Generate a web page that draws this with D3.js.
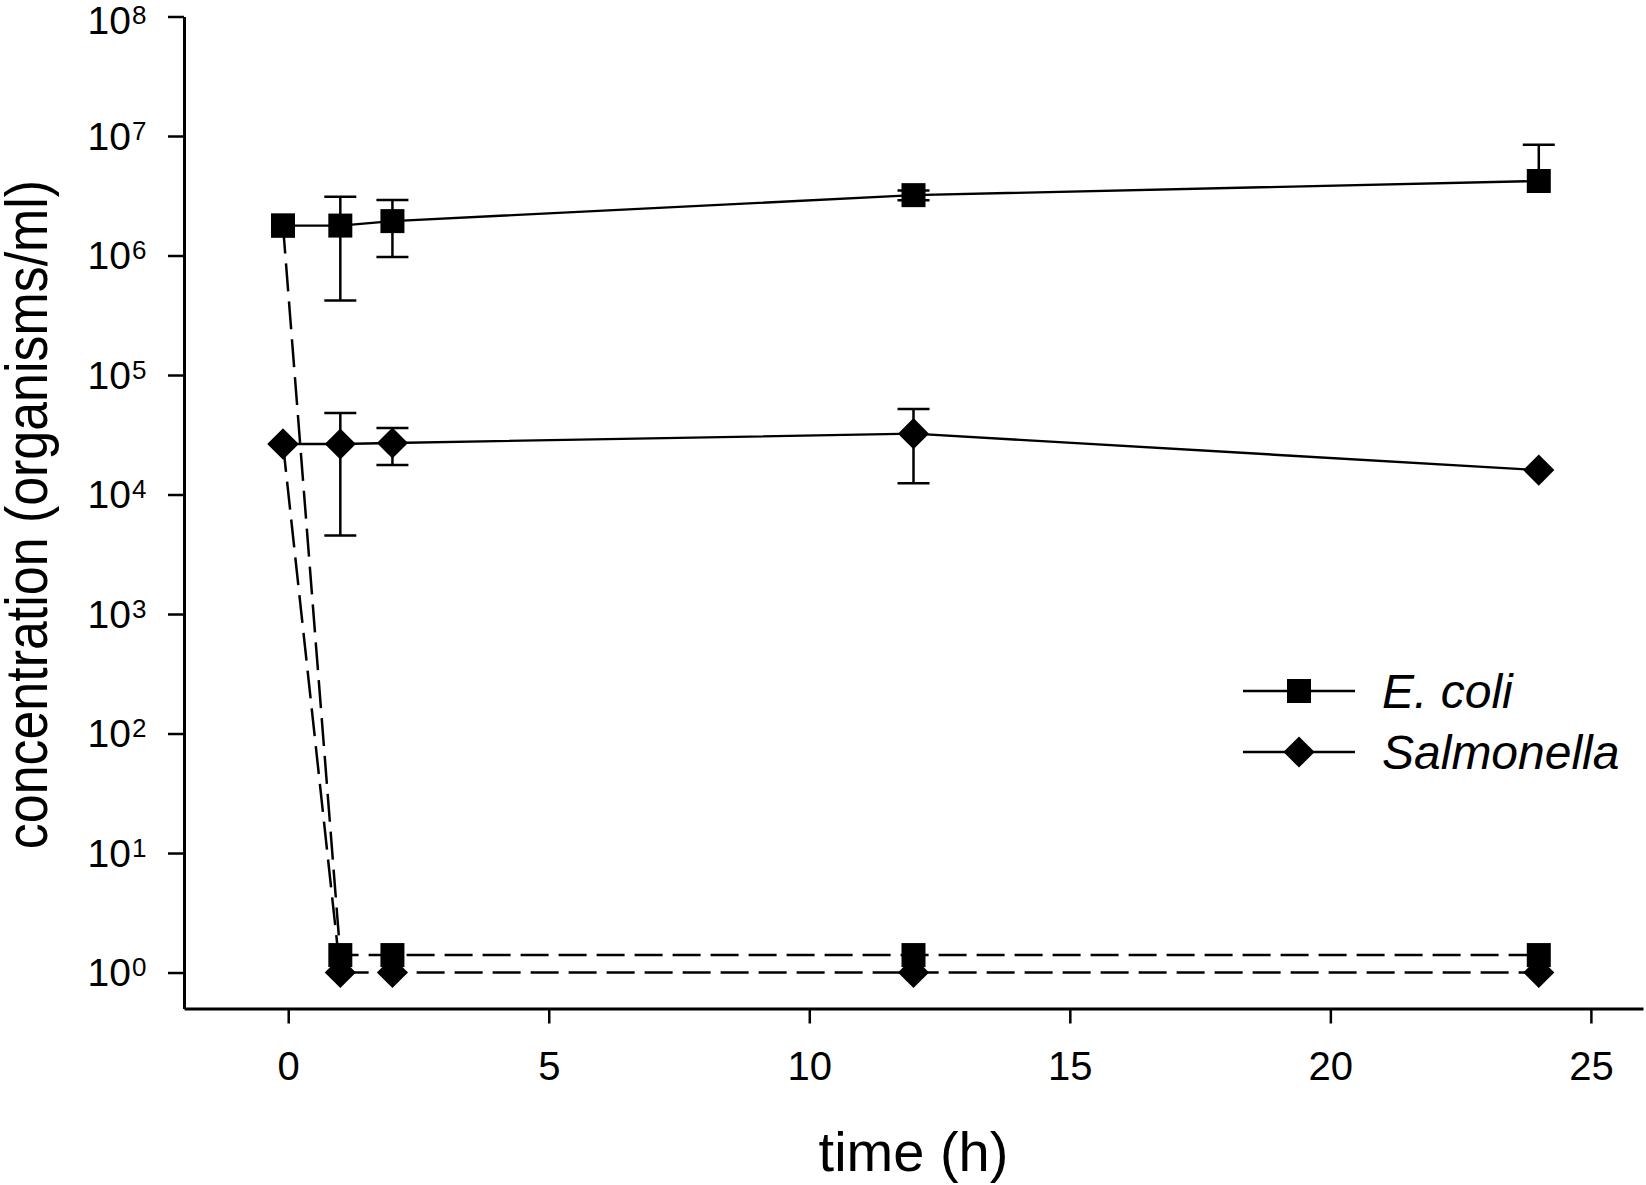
<!DOCTYPE html>
<html>
<head>
<meta charset="utf-8">
<script src="https://cdn.jsdelivr.net/npm/d3@7"></script>
<style>
  body { margin: 0; background: #fff; }
  text { font-family: "Liberation Sans", Arial, sans-serif; fill: #000; }
</style>
</head>
<body>
<div id="chart"></div>
<script>
// sampling times (h); first point plotted slightly left of zero
const timesH = [-0.1, 1, 2, 12, 24];

// untreated series (solid lines) with error bar ends
const ecoliMean = [1.78e6, 1.78e6, 1.94e6, 3.2e6, 4.2e6];
const ecoliHi = [null, 3.1e6, 2.92e6, 3.5e6, 8.45e6];
const ecoliLo = [null, 4.2e5, 9.7e5, 2.9e6, null];
const salMean = [2.65e4, 2.65e4, 2.7e4, 3.23e4, 1.6e4];
const salHi = [null, 4.8e4, 3.6e4, 5.2e4, null];
const salLo = [null, 4.55e3, 1.77e4, 1.24e4, null];

// treated series (dashed lines)
const ecoliTreated = [1.78e6, 1.4, 1.4, 1.4, 1.4];
const salTreated = [2.65e4, 1, 1, 1, 1];

const xTicks = [0, 5, 10, 15, 20, 25];
const yTickExps = [0, 1, 2, 3, 4, 5, 6, 7, 8];
const legendLabels = ['E. coli', 'Salmonella'];

const width = 1646;
const height = 1185;

const svg = d3.select('#chart')
    .append('svg')
    .attr('width', width)
    .attr('height', height);

svg.append('rect').attr('width', width).attr('height', height).attr('fill', '#fff');

const x = d3.scaleLinear()
    .domain([-2, 26])
    .range([184, 1643]);

const y = d3.scaleLog()
    .domain([0.5, 1e8])
    .range([1008.5, 16.5]);

// axes
const xAxis = d3.axisBottom(x)
    .tickValues(xTicks)
    .tickSize(15)
    .tickSizeOuter(0)
    .tickFormat(d3.format('d'));

const gx = svg.append('g')
    .attr('transform', `translate(0,${y.range()[0]})`)
    .call(xAxis);
gx.select('.domain').attr('stroke-width', 3);
gx.selectAll('.tick line').attr('stroke-width', 2.5);
gx.selectAll('.tick text')
    .attr('y', 71)
    .attr('dy', 0)
    .attr('font-size', 40)
    .style('font-family', '"Liberation Sans", Arial, sans-serif');

const yAxis = d3.axisLeft(y)
    .tickValues(yTickExps.map(e => Math.pow(10, e)))
    .tickSize(16)
    .tickSizeOuter(0)
    .tickFormat(() => '');

const gy = svg.append('g')
    .attr('transform', `translate(${x.range()[0]},0)`)
    .call(yAxis);
gy.select('.domain').attr('stroke-width', 3);
gy.selectAll('.tick line').attr('stroke-width', 2.5);
gy.selectAll('.tick text').remove();

gy.selectAll('.tick').each(function(d) {
    const g = d3.select(this);
    // keep the top label inside the page
    const shift = Math.max(0, 20 - y(d));
    g.append('text')
        .attr('x', -53)
        .attr('y', 13 + shift)
        .attr('text-anchor', 'end')
        .attr('font-size', 39)
        .text('10');
    g.append('text')
        .attr('x', -52)
        .attr('y', 3 + shift)
        .attr('text-anchor', 'start')
        .attr('font-size', 26)
        .text(Math.round(Math.log10(d)));
});

// axis titles
svg.append('text')
    .attr('x', (x.range()[0] + x.range()[1]) / 2)
    .attr('y', 1171)
    .attr('text-anchor', 'middle')
    .attr('font-size', 56)
    .text('time (h)');

svg.append('text')
    .attr('transform', `translate(47,${(y.range()[0] + y.range()[1]) / 2 + 2}) rotate(-90) scale(0.88,1)`)
    .attr('text-anchor', 'middle')
    .attr('font-size', 59)
    .text('concentration (organisms/ml)');

// lines
const line = d3.line()
    .x(d => x(d[0]))
    .y(d => y(d[1]));

function pairs(values) {
    return timesH.map((t, i) => [t, values[i]]);
}

const plot = svg.append('g');

[ecoliTreated, salTreated].forEach(vals => {
    plot.append('path')
        .datum(pairs(vals))
        .attr('d', line)
        .attr('fill', 'none')
        .attr('stroke', '#000')
        .attr('stroke-width', 2.5)
        .attr('stroke-dasharray', '28,10');
});

[ecoliMean, salMean].forEach(vals => {
    plot.append('path')
        .datum(pairs(vals))
        .attr('d', line)
        .attr('fill', 'none')
        .attr('stroke', '#000')
        .attr('stroke-width', 2.4);
});

// error bars
function drawErrors(mean, hi, lo) {
    timesH.forEach((t, i) => {
        const top = hi[i] != null ? hi[i] : mean[i];
        const bot = lo[i] != null ? lo[i] : mean[i];
        if (top === bot) return;
        const cx = x(t);
        plot.append('line')
            .attr('x1', cx).attr('x2', cx)
            .attr('y1', y(top)).attr('y2', y(bot))
            .attr('stroke', '#000').attr('stroke-width', 2.5);
        [hi[i], lo[i]].forEach(v => {
            if (v == null) return;
            plot.append('line')
                .attr('x1', cx - 16).attr('x2', cx + 16)
                .attr('y1', y(v)).attr('y2', y(v))
                .attr('stroke', '#000').attr('stroke-width', 2.5);
        });
    });
}
drawErrors(ecoliMean, ecoliHi, ecoliLo);
drawErrors(salMean, salHi, salLo);

// markers
const square = d3.symbol().type(d3.symbolSquare).size(576);
const diamond = d3.symbol().type(d3.symbolSquare).size(484);

function drawSquares(vals) {
    plot.append('g').selectAll('path')
        .data(pairs(vals))
        .enter()
        .append('path')
        .attr('d', square)
        .attr('transform', d => `translate(${x(d[0])},${y(d[1])})`)
        .attr('fill', '#000');
}

function drawDiamonds(vals) {
    plot.append('g').selectAll('path')
        .data(pairs(vals))
        .enter()
        .append('path')
        .attr('d', diamond)
        .attr('transform', d => `translate(${x(d[0])},${y(d[1])}) rotate(45)`)
        .attr('fill', '#000');
}

drawSquares(ecoliTreated);
drawSquares(ecoliMean);
drawDiamonds(salTreated);
drawDiamonds(salMean);

// legend
const legend = svg.append('g');
legendLabels.forEach((label, i) => {
    const ly = 691 + i * 61;
    legend.append('line')
        .attr('x1', 1243).attr('x2', 1355)
        .attr('y1', ly).attr('y2', ly)
        .attr('stroke', '#000').attr('stroke-width', 2.4);
    legend.append('path')
        .attr('d', i === 0 ? square : diamond)
        .attr('transform', `translate(1299,${ly})` + (i === 0 ? '' : ' rotate(45)'))
        .attr('fill', '#000');
    legend.append('text')
        .attr('x', 1382)
        .attr('y', ly + 17)
        .attr('font-size', 48)
        .attr('font-style', 'italic')
        .text(label);
});
</script>
</body>
</html>
